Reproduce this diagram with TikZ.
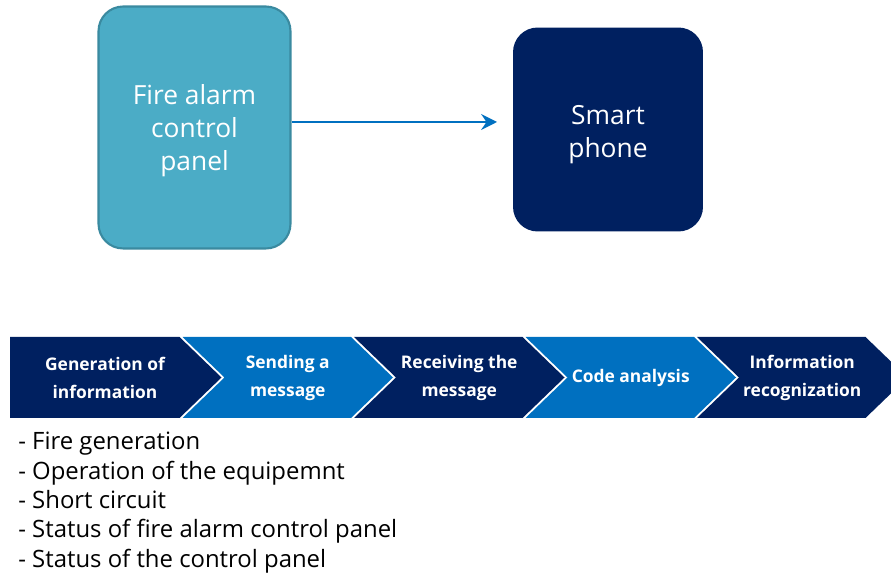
\documentclass[tikz,border=0pt]{standalone}
\usepackage{fontspec}
\setmainfont{Open Sans}
\usetikzlibrary{arrows.meta, positioning}
\definecolor{navy}{HTML}{002060}
\definecolor{midblue}{HTML}{0070C0}
\definecolor{panelteal}{HTML}{4BACC6}
\definecolor{paneledge}{HTML}{3A8AA0}
\tikzset{
  devbox/.style={
    rectangle, rounded corners=14pt,
    fill=#1
  },
  devtext/.style={
    align=center, text=white,
    font=\fontsize{15}{18.7}\selectfont
  },
  chevtext/.style={
    align=center, text=white, inner sep=0pt,
    font=\bfseries\fontsize{9.9}{15.9}\selectfont
  },
  linkarrow/.style={-{Stealth[length=9pt,width=9pt,inset=3pt]}, line width=1.2pt, midblue},
}

\begin{document}
\begin{tikzpicture}[x=0.02cm, y=-0.02cm]
  \useasboundingbox (0,0) rectangle (891,573);
  % the two devices
  \node[devbox=panelteal, draw=paneledge, line width=1.2pt,
        minimum width=3.84cm, minimum height=4.84cm,
        label={[devtext, yshift=-0.07cm]center:{Fire alarm\\control\\panel}}]
       (panel) at (194.5,127.5) {};
  \node[devbox=navy, minimum width=3.8cm, minimum height=4.08cm,
        label={[devtext, yshift=-0.1cm]center:{Smart\\phone}}]
       (phone) at (608,129.5) {};
  \coordinate (phonein) at (497,122);
  \draw[linkarrow] (panel.east |- phonein) -- (phonein);
  % process chevrons
  \foreach \i/\col/\txt in {0/navy/{Generation of\\information},
                            1/midblue/{Sending a\\message},
                            2/navy/{Receiving the\\message},
                            3/midblue/{Code analysis},
                            4/navy/{Information\\recognization}}{
    \pgfmathsetmacro{\xl}{11+171.5*\i}
    \pgfmathsetmacro{\xr}{\xl+168.5}
    \ifnum\i=0
      \fill[\col] (10,337) -- (\xr,337) -- (\xr+42,377.5) -- (\xr,418) -- (10,418) -- cycle;
      \node[chevtext] (step\i) at (105,378) {\txt};
    \else
      \fill[\col] (\xl,337) -- (\xr,337) -- (\xr+42,377.5) -- (\xr,418) -- (\xl,418)
                  -- (\xl+42,377.5) -- cycle;
      \node[chevtext] (step\i) at (\xl+105.25,378) {\txt};
    \fi
  }
  % what gets reported
  \node[anchor=north west, align=left, inner sep=0pt,
        font=\fontsize{13.6}{16.7}\selectfont] (causes) at (18,432)
       {- Fire generation\\- Operation of the equipemnt\\- Short circuit\\
        - Status of fire alarm control panel\\- Status of the control panel};
\end{tikzpicture}
\end{document}
